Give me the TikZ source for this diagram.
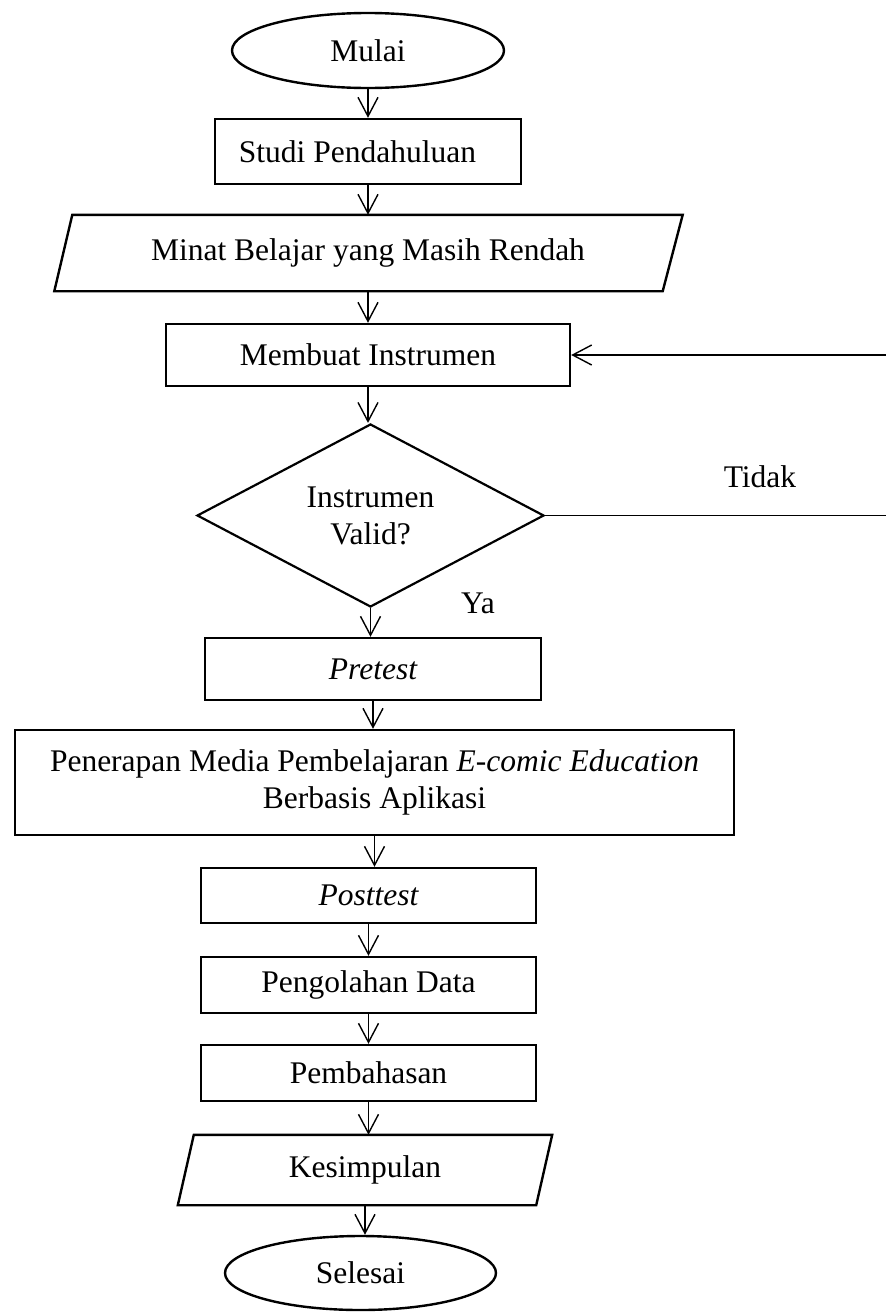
\documentclass[tikz,border=0pt]{standalone}
\usepackage{fontspec}
\setmainfont{Liberation Serif}
\usetikzlibrary{shapes.geometric,arrows.meta,calc}
\begin{document}
\begin{tikzpicture}[x=1pt,y=-1pt,
  every node/.style={font=\fontsize{31.5}{37}\selectfont, inner sep=2pt},
  box/.style={draw, line width=2.4pt, rectangle},
  term/.style={draw, line width=2.4pt, ellipse, minimum width=272pt, minimum height=75pt},
  ioframe/.style={rectangle},
  ioline/.style={line width=2.4pt, line join=miter},
  cond/.style={draw, line width=2.2pt, diamond, aspect=1.9, minimum width=347pt, minimum height=183pt, align=center, inner sep=0pt},
  flow/.style={line width=1.4pt, -{Straight Barb[length=19pt,width=20pt]}},
  plain/.style={line width=1.6pt}
]
\useasboundingbox (0,0) rectangle (886,1312);

\node[term] (mulai) at (368,50.5) {Mulai};
\node[box, minimum width=306pt, minimum height=65pt] (studi) at (368,151.5) {Studi Pendahuluan\hspace*{21pt}};
\node[ioframe, minimum width=609pt, minimum height=76pt] (minat) at (368,253) {Minat Belajar yang Masih Rendah};
\draw[ioline] ($(minat.south west)+(-9,0)$) -- ($(minat.north west)+(9,0)$) -- ($(minat.north east)+(10,0)$) -- ($(minat.south east)+(-10,0)$) -- cycle;
\node[box, minimum width=404pt, minimum height=62pt] (membuat) at (368,355) {Membuat Instrumen};
\node[cond] (valid) at (370.5,515.5) {Instrumen\\Valid?};
\node[box, minimum width=336pt, minimum height=62pt] (pre) at (373,669) {\itshape Pretest};
\node[box, minimum width=719pt, minimum height=105pt, align=center] (terap) at (374.5,782.5) {Penerapan Media Pembelajaran \textit{E-comic Education}\\Berbasis Aplikasi};
\node[box, minimum width=335pt, minimum height=55pt] (post) at (368.5,895.5) {\itshape Posttest};
\node[box, minimum width=335pt, minimum height=56pt] (olah) at (368.5,985) {Pengolahan Data};
\node[box, minimum width=335pt, minimum height=56pt] (bahas) at (368.5,1073) {Pembahasan};
\node[ioframe, minimum width=358pt, minimum height=70pt] (simpul) at (365,1170) {Kesimpulan};
\draw[ioline] ($(simpul.south west)+(-8,0)$) -- ($(simpul.north west)+(8,0)$) -- ($(simpul.north east)+(8,0)$) -- ($(simpul.south east)+(-8,0)$) -- cycle;
\node[term, minimum width=271pt, minimum height=74pt] (selesai) at (360.5,1273) {Selesai};

\node (tidak) at (760,477) {Tidak};
\node (ya) at (478,603) {Ya};

\draw[flow] (mulai.south) -- (mulai.south |- studi.north);
\draw[flow] (studi.south) -- (studi.south |- minat.north);
\draw[flow] (minat.south) -- (minat.south |- membuat.north);
\draw[flow] (membuat.south) -- (membuat.south |- valid.north);
\draw[flow] (valid.south) -- (valid.south |- pre.north);
\draw[flow] (pre.south) -- (pre.south |- terap.north);
\draw[flow] (terap.south) -- (terap.south |- post.north);
\draw[flow] (post.south) -- (post.south |- olah.north);
\draw[flow] (olah.south) -- (olah.south |- bahas.north);
\draw[flow] (bahas.south) -- (bahas.south |- simpul.north);
\draw[flow] (simpul.south) -- (simpul.south |- selesai.north);

\coordinate (back) at (886,512);
\coordinate (ret) at (886,355);
\draw[plain] (valid.east) -- (valid.east -| back);
\draw[flow] (ret) -- (membuat.east);
\end{tikzpicture}
\end{document}
